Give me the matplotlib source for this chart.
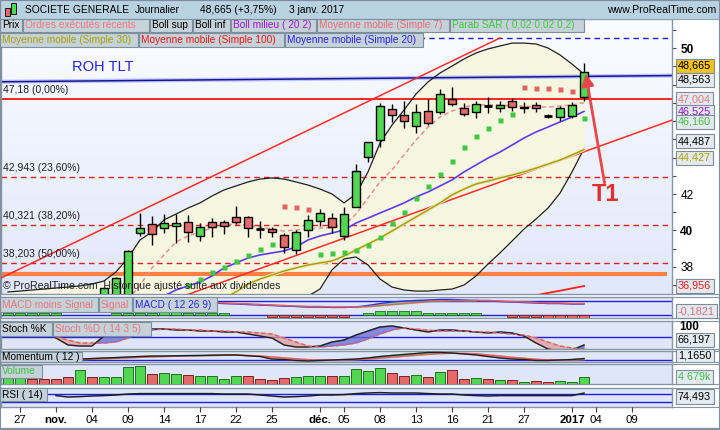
import numpy as np
import matplotlib.pyplot as plt
import matplotlib.transforms as mtransforms
from matplotlib.patches import Rectangle
from matplotlib.colors import LinearSegmentedColormap

plt.rcParams['font.family'] = ['Liberation Sans', 'DejaVu Sans']

# trading days, index 0 = 27 oct. 2016, 47 = 3 janv. 2017
candle_start = 7
cdl_open = [36.10, 36.20, 36.30, 39.85, 40.34, 40.12, 40.25, 40.49, 39.70, 40.45, 40.45, 40.74, 40.74, 40.08,
            40.07, 39.75, 38.93, 40.03, 40.52, 40.67, 39.70, 41.30, 44.01, 44.96, 46.64, 46.31, 45.73, 46.55,
            46.51, 47.19, 46.73, 46.48, 46.82, 46.70, 47.10, 46.75, 46.86, 46.27, 46.24, 46.27, 47.33]
cdl_high = [36.90, 37.45, 38.92, 40.98, 40.81, 40.90, 40.90, 40.85, 40.43, 40.70, 40.58, 41.36, 40.79, 40.52,
            40.18, 39.85, 40.03, 40.85, 41.18, 40.96, 41.30, 43.64, 44.83, 46.97, 46.93, 47.10, 46.93, 47.19,
            47.75, 47.88, 46.97, 47.10, 47.30, 47.10, 47.24, 47.04, 47.04, 46.38, 46.82, 47.06, 49.16]
cdl_low = [35.90, 36.00, 36.20, 39.70, 39.20, 39.86, 39.30, 39.37, 39.44, 39.66, 39.80, 40.37, 39.64, 39.60,
           39.63, 38.78, 38.70, 39.66, 40.26, 39.88, 39.48, 41.30, 43.77, 44.59, 45.96, 45.60, 45.33, 45.78,
           46.38, 46.82, 46.27, 46.18, 46.42, 46.51, 46.56, 46.46, 46.51, 46.18, 46.02, 46.15, 47.11]
cdl_close = [36.85, 37.40, 38.88, 40.15, 39.79, 40.43, 40.43, 39.93, 40.18, 40.18, 40.25, 40.49, 40.12, 40.07,
             39.90, 39.08, 39.90, 40.56, 40.94, 40.18, 40.89, 43.26, 44.83, 46.82, 46.31, 45.98, 46.48, 45.87,
             47.46, 46.92, 46.38, 46.92, 46.83, 46.86, 46.77, 46.70, 46.71, 46.28, 46.70, 46.86, 48.665]

band_start = -1
boll_sup = [36.63, 36.68, 36.74, 36.79, 36.85, 36.90, 36.96, 37.07, 37.23, 37.73, 38.49, 39.48, 39.92, 40.58,
            40.90, 41.23, 41.51, 41.89, 42.22, 42.44, 42.66, 42.82, 42.88, 42.82, 42.66, 42.49, 42.27, 42.00,
            41.51, 42.00, 43.21, 44.79, 45.78, 46.60, 47.48, 48.14, 48.63, 49.01, 49.40, 49.73, 49.95, 50.11,
            50.27, 50.27, 50.22, 50.00, 49.62, 49.12, 48.563]
boll_inf = [35.6, 35.6, 35.5, 35.5, 35.5, 35.4, 35.3, 35.2, 35.0, 34.6, 34.2, 34.0, 34.0, 34.1, 34.3, 34.6,
            34.8, 35.0, 35.3, 35.6, 35.8, 36.0, 36.1, 36.2, 36.3, 36.4, 36.79, 37.84, 38.44, 38.55, 38.11,
            37.34, 36.90, 36.74, 36.68, 36.68, 36.74, 36.79, 37.01, 37.51, 38.16, 38.77, 39.42, 40.08, 40.63,
            41.23, 42.05, 43.21, 44.487]

ma7_start = 9
ma7 = [36.2, 37.01, 37.95, 38.66, 39.37, 39.70, 39.92, 40.14, 40.30, 40.36, 40.25, 40.19, 40.08, 39.97, 40.03,
       40.08, 40.14, 40.14, 40.30, 40.90, 41.78, 42.66, 43.32, 44.14, 44.96, 45.67, 46.22, 46.55, 46.77, 46.88,
       46.88, 46.88, 46.82, 46.82, 46.77, 46.77, 46.82, 46.88, 47.004]
ma20_start = 12
ma20 = [36.41, 36.74, 36.96, 37.18, 37.51, 37.95, 38.22, 38.49, 38.66, 38.77, 38.88, 39.10, 39.48, 39.70, 39.86,
        40.03, 40.41, 40.68, 40.96, 41.23, 41.51, 41.84, 42.11, 42.44, 42.77, 43.21, 43.59, 43.97, 44.30, 44.68,
        45.07, 45.40, 45.67, 45.95, 46.22, 46.525]
ma30_start = 17
ma30 = [36.30, 36.63, 37.07, 37.34, 37.56, 37.78, 37.95, 38.11, 38.22, 38.33, 38.60, 38.93, 39.26, 39.59, 39.97,
        40.36, 40.74, 41.12, 41.51, 41.95, 42.27, 42.55, 42.71, 42.88, 43.04, 43.21, 43.42, 43.64, 43.86, 44.14,
        44.427]
ma100_start = 43
ma100 = [36.45, 36.58, 36.70, 36.83, 36.956]
sar_start = 14
sar = [37.01, 37.34, 37.73, 38.00, 38.33, 38.66, 38.99, 39.26, 41.34, 41.29, 41.18, 38.71, 38.77, 38.82, 38.93,
       39.21, 39.64, 40.41, 41.01, 41.78, 42.44, 43.10, 43.81, 44.58, 45.18, 45.62, 46.05, 46.38, 47.86, 47.81,
       47.81, 47.75, 47.64, 46.16]

# drawn objects (index, price)
roh_tlt = [(-1.58, 48.15), (54.33, 48.49)]
trend_upper = [(-1.58, 37.40), (40.0, 50.55)]
trend_lower = [(13.9, 36.47), (54.33, 46.05)]
fibo_levels = [47.18, 42.943, 40.321, 38.203]
fibo_labels = ['47,18 (0,00%)', '42,943 (23,60%)', '40,321 (38,20%)', '38,203 (50,00%)']
resist_dashed = 50.55
support_orange = 37.62

volume = [4.6, 4.2, 3.1, 3.1, 2.9, 4.4, 8.7, 4.6, 4.2, 4.2, 10.4, 11.2, 6.0, 6.7, 6.0, 5.4, 4.8, 4.8, 2.9, 4.8,
          4.8, 2.9, 2.3, 3.5, 4.2, 4.8, 4.8, 4.8, 4.8, 9.4, 8.1, 9.8, 6.7, 4.8, 5.4, 4.2, 7.3, 8.5, 2.9, 3.5,
          2.9, 2.3, 2.3, 1.0, 1.7, 1.0, 1.7, 1.0, 4.679]
vol_up = [1, 1, 0, 0, 0, 0, 1, 0, 1, 1, 1, 1, 0, 1, 1, 0, 1, 1, 1, 1, 0, 0, 0, 0, 1, 1, 1, 0, 1, 1,
          1, 1, 0, 0, 1, 0, 1, 0, 0, 1, 0, 1, 0, 1, 0, 0, 1, 1, 1]

macd_hist = [0.14, 0.14, 0.14, 0.14, 0.14, 0, 0, 0, 0, 0.14, 0.14, 0.14, 0.14, 0.26, 0.26, 0.14, 0.14, 0.14,
             0.14, 0, 0, 0, -0.14, -0.14, -0.14, -0.14, -0.14, -0.14, -0.14, 0, 0.14, 0.26, 0.26, 0.26, 0.26,
             0.14, 0.14, 0.14, 0.14, 0.14, 0, 0, -0.12, -0.12, -0.16, -0.2, -0.2, -0.2, -0.18]
macd_start = 16
macd_line = [0.86, 0.82, 0.79, 0.75, 0.71, 0.68, 0.64, 0.61, 0.57, 0.57, 0.54, 0.54, 0.57, 0.68, 0.82, 0.93,
             1.00, 1.04, 1.07, 1.11, 1.11, 1.07, 1.04, 1.00, 0.96, 0.93, 0.89, 0.86, 0.82, 0.82, 0.79, 0.79]
macd_signal = [0.89, 0.86, 0.82, 0.79, 0.75, 0.71, 0.68, 0.64, 0.61, 0.61, 0.57, 0.57, 0.57, 0.61, 0.68, 0.75,
               0.82, 0.89, 0.96, 1.00, 1.04, 1.04, 1.04, 1.04, 1.00, 0.96, 0.93, 0.89, 0.86, 0.86, 0.82, 0.82]

osc_start = 3
stoch_k = [78.2, 65.5, 63.6, 63.6, 81.8, 85.5, 87.3, 90.9, 94.5, 94.5, 92.7, 92.7, 90.9, 90.9, 89.1, 89.1,
           85.5, 81.8, 78.2, 65.5, 61.8, 61.8, 63.6, 70.9, 74.5, 83.6, 90.9, 98.2, 100.0, 96.4, 92.7, 89.1,
           92.7, 92.7, 90.9, 89.1, 87.3, 89.1, 87.3, 81.8, 69.1, 58.2, 54.5, 56.4, 65.5]
stoch_d = [80.0, 74.5, 69.1, 69.1, 69.1, 70.9, 78.2, 87.3, 92.7, 94.5, 94.5, 92.7, 92.7, 90.9, 90.9, 89.1,
           89.1, 87.3, 85.5, 78.2, 70.9, 63.6, 61.8, 63.6, 65.5, 69.1, 76.4, 85.5, 92.7, 96.4, 94.5, 92.7,
           90.9, 90.9, 90.9, 89.1, 89.1, 87.3, 85.5, 83.6, 78.2, 70.9, 63.6, 60.0, 58.2]
rsi = [62, 55, 57, 60, 62, 65, 70, 72, 72, 72, 72, 72, 72, 72, 70, 70, 70, 65, 60, 55, 57, 60, 65, 65, 67,
       72, 75, 77, 75, 75, 75, 72, 70, 70, 65, 62, 60, 62, 62, 62, 62, 62, 62, 62, 74.5]
mom_start = 5
momentum = [0.8, 1.2, 1.7, 2.0, 2.5, 2.9, 3.3, 3.3, 3.5, 3.7, 3.8, 4.0, 4.2, 4.2, 3.5, 2.9, 0.8, 0.4, -0.4,
            -0.8, -0.4, 0.0, 0.4, 0.8, 1.7, 2.9, 3.8, 4.6, 5.4, 6.3, 6.3, 5.8, 5.0, 4.2, 2.9, 1.7, 0.8, 0.4,
            -0.4, -0.4, 0.0, 0.4, 1.2]
momentum_ma = [0.3, 0.6, 1.0, 1.4, 1.8, 2.2, 2.6, 2.9, 3.1, 3.3, 3.5, 3.7, 3.9, 4.0, 3.8, 3.4, 2.6, 1.8, 1.0,
               0.3, 0.0, -0.1, 0.0, 0.3, 0.8, 1.5, 2.3, 3.1, 3.9, 4.7, 5.3, 5.6, 5.5, 5.1, 4.3, 3.3, 2.3, 1.4,
               0.6, 0.1, -0.1, 0.0, 0.3]

xt_idx = [0, 3, 6, 9, 12, 15, 18, 21, 25, 27, 30, 33, 36, 39, 42, 46, 48, 51]
xt_lab = ['27', 'nov.', '04', '09', '14', '17', '22', '25', 'déc.', '05', '08', '13', '16', '21', '27',
          '2017', '04', '09']
price_tick_labels = {38: False, 40: True, 42: False, 50: True}   # label -> bold


def idx(start, n):
    return np.arange(start, start + n)


W, H = 720, 430
X_LIM = (-1.58, 54.33)
fig = plt.figure(figsize=(7.2, 4.3), dpi=100)
fig.patch.set_facecolor('white')


def rect_px(x0, y0, x1, y1):
    return [x0 / W, 1 - y1 / H, (x1 - x0) / W, (y1 - y0) / H]


def clip_below(artist, y):
    artist.set_clip_box(mtransforms.TransformedBbox(mtransforms.Bbox([[0, 1 - y / H], [1, 1]]),
                                                    fig.transFigure))
    artist.set_clip_on(True)


def panel(y0, y1, ylim, face='#dfe6fa'):
    a = fig.add_axes(rect_px(1, y0, 672, y1))
    a.set_xlim(*X_LIM)
    a.set_ylim(*ylim)
    a.set_facecolor(face)
    a.set_xticks([])
    a.set_yticks([])
    for s in a.spines.values():
        s.set_color('#8696a6')
        s.set_linewidth(1)
    return a


def tag(x0, x1, y0, y1, text, color, clip_y=None):
    r = Rectangle((x0 / W, 1 - y1 / H), (x1 - x0) / W, (y1 - y0) / H, transform=fig.transFigure,
                  fc='#c6d2da', ec='#7b8f9d', lw=0.8, zorder=20)
    fig.patches.append(r)
    t = fig.text((x0 + 2) / W, 1 - (y0 + y1) / 2 / H, text, color=color, fontsize=7.3, va='center',
                 ha='left', zorder=21)
    if clip_y is not None:
        clip_below(t, clip_y)


def vbox(y, text, color, fc='#e4eaf1', clip_y=None):
    t = fig.text(678 / W, 1 - y / H, text, color=color, fontsize=7.8, va='center', ha='left', zorder=30,
                 bbox=dict(boxstyle='square,pad=0.22', fc=fc, ec='#7d8d9c', lw=0.8))
    if clip_y is not None:
        clip_below(t, clip_y)


# ---------------- main price panel
PRICE_LIM = (36.52, 51.59)
ax = panel(19, 294, PRICE_LIM)
grad = LinearSegmentedColormap.from_list('bg', ['#e1e8fb', '#fbfcff'])
ax.imshow(np.linspace(0, 1, 64).reshape(-1, 1), cmap=grad, aspect='auto', origin='lower',
          extent=(X_LIM[0], X_LIM[1], PRICE_LIM[0], PRICE_LIM[1]), zorder=0)
ax.set_xlim(*X_LIM)
ax.set_ylim(*PRICE_LIM)

d_band = idx(band_start, len(boll_sup))
ax.fill_between(d_band, boll_inf, boll_sup, color='#f7f7e1', zorder=1)
ax.plot(d_band, boll_sup, color='#202020', lw=0.9, zorder=3)
ax.plot(d_band, boll_inf, color='#202020', lw=0.9, zorder=3)

for lv in fibo_levels[1:]:
    ax.axhline(lv, color='#e02020', lw=1, ls=(0, (4, 3)), zorder=2)
ax.axhline(fibo_levels[0], color='#ff0000', lw=1.2, zorder=2)
ax.axhline(resist_dashed, color='#1a1aff', lw=1, ls=(0, (4, 3)), zorder=2)
ax.plot([X_LIM[0], 53.9], [support_orange] * 2, color='#ff7f45', lw=3, zorder=2, solid_capstyle='butt')
for lab, lv in zip(fibo_labels, fibo_levels):
    ax.text(-1.45, lv + 0.22, lab, fontsize=7.5, color='#202020', va='bottom', ha='left', zorder=7)

(xa, ya), (xb, yb) = roh_tlt
ax.plot([xa, xb], [ya, yb], color='#9aa4ff', lw=3, alpha=0.6, zorder=2)
ax.plot([xa, xb], [ya, yb], color='#16168f', lw=1.1, zorder=2)
ax.text(4.33, 48.95, 'ROH TLT', color='#2222ee', fontsize=10.5, va='center', ha='left', zorder=7)

for (p0, p1) in (trend_upper, trend_lower):
    ax.plot([p0[0], p1[0]], [p0[1], p1[1]], color='#ff2a2a', lw=1.1, zorder=3)

ax.plot(idx(ma30_start, len(ma30)), ma30, color='#ece8a8', lw=2.4, zorder=3)
ax.plot(idx(ma30_start, len(ma30)), ma30, color='#a39c12', lw=1.0, zorder=3)
ax.plot(idx(ma20_start, len(ma20)), ma20, color='#5a3cf2', lw=1.2, zorder=3)
ax.plot(idx(ma7_start, len(ma7)), ma7, color='#eb8f8f', lw=1.1, ls=(0, (3, 2)), zorder=3)
ax.plot(idx(ma100_start, len(ma100)), ma100, color='#ff2020', lw=1.3, zorder=3)

d_sar = idx(sar_start, len(sar))
for i, s in zip(d_sar, sar):
    c = cdl_close[i - candle_start]
    ax.plot(i, s, 's', ms=3.6, mec='none', color='#e46464' if s > c else '#3fc93f', zorder=4)

for k in range(len(cdl_open)):
    i = candle_start + k
    o, h, l, c = cdl_open[k], cdl_high[k], cdl_low[k], cdl_close[k]
    ax.vlines(i, l, h, color='black', lw=1, zorder=5)
    if abs(c - o) < 0.03:
        ax.hlines(c, i - 0.33, i + 0.33, color='black', lw=2, zorder=6)
    else:
        col = '#52d752' if c > o else '#e46a6a'
        ax.add_patch(Rectangle((i - 0.33, min(o, c)), 0.66, abs(c - o), fc=col, ec='black', lw=1, zorder=6))

ax.text(-1.45, 36.96, '© ProRealTime.com  Historique ajusté suite aux dividendes', fontsize=7.6,
        color='#202020', va='center', ha='left', zorder=7)
ax.annotate('', xy=(47.1, 48.75), xytext=(48.75, 42.45),
            arrowprops=dict(arrowstyle='-|>,head_length=0.7,head_width=0.35', color='#e84848', lw=2),
            zorder=8)
ax.text(48.75, 41.95, 'T1', color='#e03030', fontsize=17, fontweight='bold', ha='center', va='center',
        zorder=8)

ax.yaxis.tick_right()
ticks = np.arange(37, 52)
ax.set_yticks(ticks)
ax.set_yticklabels([str(v) if v in price_tick_labels else '' for v in ticks])
ax.tick_params(axis='y', length=3, width=0.8, colors='#505050', labelcolor='black', labelsize=8.5, pad=3)
for t, v in zip(ax.get_yticklabels(), ticks):
    if price_tick_labels.get(v):
        t.set_fontweight('bold')

# ---------------- MACD
am = panel(297, 318, (-0.214, 1.286))
d_all = idx(-1, len(macd_hist))
for i, v in zip(d_all, macd_hist):
    if v != 0:
        am.bar(i, v, width=0.8, color='#52d752' if v > 0 else '#e46a6a',
               edgecolor='#207020' if v > 0 else '#802020', lw=0.6, zorder=3)
am.axhline(0, color='#2020e0', lw=1, zorder=2)
am.axhline(1.0, color='#2020e0', lw=1, zorder=2)
d_macd = idx(macd_start, len(macd_line))
ml, ms = np.array(macd_line), np.array(macd_signal)
am.fill_between(d_macd, ml, ms, where=ml >= ms, color='#60c860', alpha=0.6, interpolate=True, zorder=2)
am.fill_between(d_macd, ml, ms, where=ml < ms, color='#e88080', alpha=0.6, interpolate=True, zorder=2)
am.plot(d_macd, ml, color='#3030e0', lw=1, zorder=3)
am.plot(d_macd, ms, color='#e06060', lw=1, zorder=3)

# ---------------- Stochastic
ast = panel(321, 349, (58.2, 109.1))
d_osc = idx(osc_start, len(stoch_k))
sk, sd = np.array(stoch_k), np.array(stoch_d)
ast.axhline(80, color='#2020e0', lw=1, zorder=2)
ast.fill_between(d_osc, sk, sd, where=sk >= sd, color='#6a6ad8', alpha=0.75, interpolate=True, zorder=2)
ast.fill_between(d_osc, sk, sd, where=sk < sd, color='#e49a9a', alpha=0.75, interpolate=True, zorder=2)
ast.plot(d_osc, sk, color='#202020', lw=1, zorder=3)
ast.plot(d_osc, sd, color='#e06060', lw=1, ls=(0, (3, 2)), zorder=3)

# ---------------- Momentum
amo = panel(351, 362, (-1.67, 7.5))
d_mom = idx(mom_start, len(momentum))
mo, mm = np.array(momentum), np.array(momentum_ma)
amo.axhline(0, color='#2020e0', lw=1, zorder=2)
amo.fill_between(d_mom, mo, mm, where=mo >= mm, color='#5cc45c', alpha=0.6, interpolate=True, zorder=2)
amo.fill_between(d_mom, mo, mm, where=mo < mm, color='#e48a8a', alpha=0.6, interpolate=True, zorder=2)
amo.plot(d_mom, mm, color='#e06060', lw=1, zorder=3)
amo.plot(d_mom, mo, color='#202020', lw=1, zorder=3)

# ---------------- Volume
av = panel(364, 384, (0, 12.48))
for i, v, up in zip(d_all, volume, vol_up):
    av.bar(i, v, width=0.8, color='#52d752' if up else '#e46a6a',
           edgecolor='#207020' if up else '#802020', lw=0.7, zorder=3)

# ---------------- RSI
ar = panel(388, 407, (5, 100))
ar.axhline(70, color='#2020e0', lw=1, zorder=2)
ar.axhline(30, color='#2020e0', lw=1, zorder=2)
ar.plot(d_osc, rsi, color='#202020', lw=1.1, zorder=3)

# ---------------- date axis
axx = fig.add_axes(rect_px(1, 407, 672, 428))
axx.set_xlim(*X_LIM)
axx.set_ylim(0, 1)
axx.axis('off')
axx.vlines(xt_idx, 0.78, 1.0, color='#404040', lw=0.8)
for i, lab in zip(xt_idx, xt_lab):
    axx.text(i, 0.36, lab, ha='center', va='center', fontsize=8.2,
             fontweight='bold' if not lab.isdigit() or lab == '2017' else 'normal', color='black')
fig.lines.append(plt.Line2D([0, 1], [1 - 428 / H] * 2, transform=fig.transFigure, color='#8696a6', lw=1))
for yb in (294, 297, 318, 321, 349, 351, 362, 364, 384, 388, 407):
    fig.lines.append(plt.Line2D([672 / W, 1], [1 - yb / H] * 2, transform=fig.transFigure,
                                color='#8696a6', lw=0.8))

# ---------------- header and legends
fig.patches.append(Rectangle((0, 1 - 19 / H), 1, 19 / H, transform=fig.transFigure, fc='#b8d2e2',
                             ec='#8ea6b6', lw=0.8, zorder=20))
fig.patches.append(Rectangle((5 / W, 1 - 16 / H), 5 / W, 8 / H, transform=fig.transFigure, fc='#e46a6a',
                             ec='black', lw=0.6, zorder=21))
fig.patches.append(Rectangle((11 / W, 1 - 14 / H), 5 / W, 11 / H, transform=fig.transFigure, fc='#52d752',
                             ec='black', lw=0.6, zorder=21))
for xt, txt in ((25, 'SOCIETE GENERALE'), (135, 'Journalier'), (200, '48,665 (+3,75%)'),
                (289, '3 janv. 2017')):
    fig.text(xt / W, 1 - 10 / H, txt, fontsize=7.4, va='center', ha='left', color='black', zorder=22)
fig.text(716 / W, 1 - 10 / H, 'www.ProRealTime.com', fontsize=7.6, va='center', ha='right', color='black',
         zorder=22)

tag(0, 22, 19, 32, 'Prix', 'black')
tag(23, 149, 19, 32, 'Ordres exécutés récents', '#f07a7a')
tag(150, 192, 19, 32, 'Boll sup', 'black')
tag(193, 230, 19, 32, 'Boll inf', 'black')
tag(231, 316, 19, 32, 'Boll milieu ( 20 2)', '#9a18d4')
tag(317, 449, 19, 32, 'Moyenne mobile (Simple 7)', '#e86f6f')
tag(450, 584, 19, 32, 'Parab SAR ( 0,02 0,02 0,2)', '#40c840')
tag(0, 138, 33, 47, 'Moyenne mobile (Simple 30)', '#a8a000')
tag(139, 284, 33, 47, 'Moyenne mobile (Simple 100)', '#ff1414')
tag(285, 423, 33, 47, 'Moyenne mobile (Simple 20)', '#2a22ff')
tag(0, 98, 297, 312, 'MACD moins Signal', '#e87878')
tag(99, 132, 297, 312, 'Signal', '#e87878')
tag(133, 217, 297, 312, 'MACD ( 12 26 9)', '#2a2ae0')
tag(0, 52, 322, 336, 'Stoch %K', 'black')
tag(53, 151, 322, 336, 'Stoch %D ( 14 3 5)', '#e87878')
tag(0, 82, 352, 362, 'Momentum ( 12 )', 'black', clip_y=362)
tag(0, 42, 365, 378, 'Volume', '#40c040')
tag(0, 47, 388, 401, 'RSI ( 14)', 'black')

# ---------------- right value boxes
vbox(66, '48,665', 'black', fc='#f6c21c')
vbox(80, '48,563', 'black')
vbox(99.5, '47,004', '#f07878')
vbox(112, '46,525', '#9a10d0')
vbox(122, '46,160', '#40c040')
vbox(141, '44,487', 'black')
vbox(158, '44,427', '#a8a000')
vbox(286, '36,956', '#ff1a1a')
vbox(311, '-0,1821', '#e87070')
fig.text(679 / W, 1 - 327 / H, '100', fontsize=8.5, fontweight='bold', va='center', ha='left', zorder=30)
vbox(340, '66,197', 'black')
vbox(356, '1,1650', 'black', clip_y=362)
vbox(377, '4 679k', '#40c040')
vbox(396.5, '74,493', 'black')

fig.patches.append(Rectangle((0, 0), 1, 1, transform=fig.transFigure, fill=False, ec='#7d8d9c', lw=1.5,
                             zorder=50))

fig.savefig('out.png', dpi=100)
